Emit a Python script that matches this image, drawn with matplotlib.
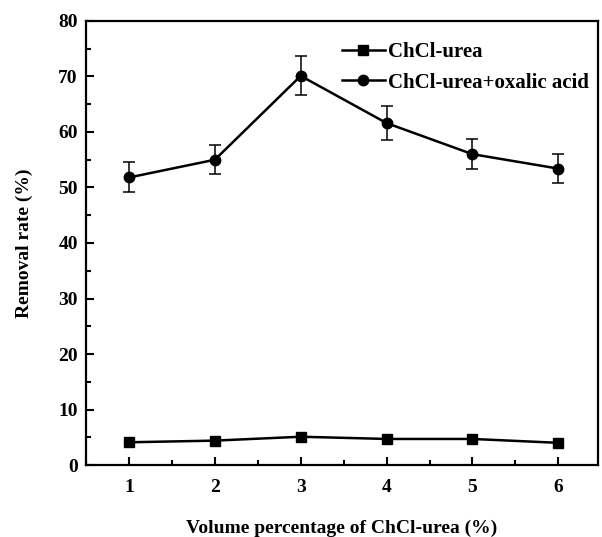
import matplotlib
matplotlib.use("Agg")
import matplotlib.pyplot as plt
from matplotlib.lines import Line2D
from matplotlib.ticker import MultipleLocator

# volume percentage of ChCl-urea (%)
volume_pct = [1, 2, 3, 4, 5, 6]

# removal rate (%) per solvent system
removal_urea = [4.1, 4.4, 5.1, 4.7, 4.7, 4.0]
removal_oxalic = [51.8, 55.0, 70.1, 61.6, 56.0, 53.4]
err_oxalic = [2.7, 2.6, 3.5, 3.1, 2.75, 2.6]

series_labels = ["ChCl-urea", "ChCl-urea+oxalic acid"]

plt.rcParams["font.family"] = ["Liberation Serif", "DejaVu Serif"]
plt.rcParams["font.weight"] = "bold"

fig = plt.figure(figsize=(6.02, 5.37), dpi=100)
ax = fig.add_axes([0.143, 0.134, 0.85, 0.827])

ax.plot(volume_pct, removal_urea, color="black", lw=1.8, marker="s", ms=6.5)
ax.errorbar(volume_pct, removal_oxalic, yerr=err_oxalic, color="black", lw=1.8,
            marker="o", ms=7.5, elinewidth=1.1, capsize=4, capthick=1.1)

ax.set_xlim(0.5, 6.46)
ax.set_ylim(0, 80)
ax.xaxis.set_major_locator(MultipleLocator(1))
ax.xaxis.set_minor_locator(MultipleLocator(0.5))
ax.yaxis.set_major_locator(MultipleLocator(10))
ax.yaxis.set_minor_locator(MultipleLocator(5))
ax.tick_params(which="both", direction="in", top=False, right=False,
               width=1.5, labelsize=14)
ax.tick_params(which="major", length=6)
ax.tick_params(which="minor", length=3.5)
ax.tick_params(axis="x", pad=10)
ax.tick_params(axis="y", pad=6)
for spine in ax.spines.values():
    spine.set_linewidth(1.6)

ax.set_xlabel("Volume percentage of ChCl-urea (%)", fontsize=14,
              fontweight="bold", labelpad=17)
ax.set_ylabel("Removal rate (%)", fontsize=14, fontweight="bold", labelpad=18)

# legend keys show plain line+marker, without the error bars
handles = [
    Line2D([], [], color="black", lw=1.8, marker="s", ms=6.5),
    Line2D([], [], color="black", lw=1.8, marker="o", ms=7.5),
]
ax.legend(handles, series_labels, loc="upper right", frameon=False,
          fontsize=15, handlelength=2.1, handletextpad=0.15, labelspacing=0.5,
          borderaxespad=0.3, bbox_to_anchor=(1.012, 0.985))

fig.savefig("out.png", dpi=100)
